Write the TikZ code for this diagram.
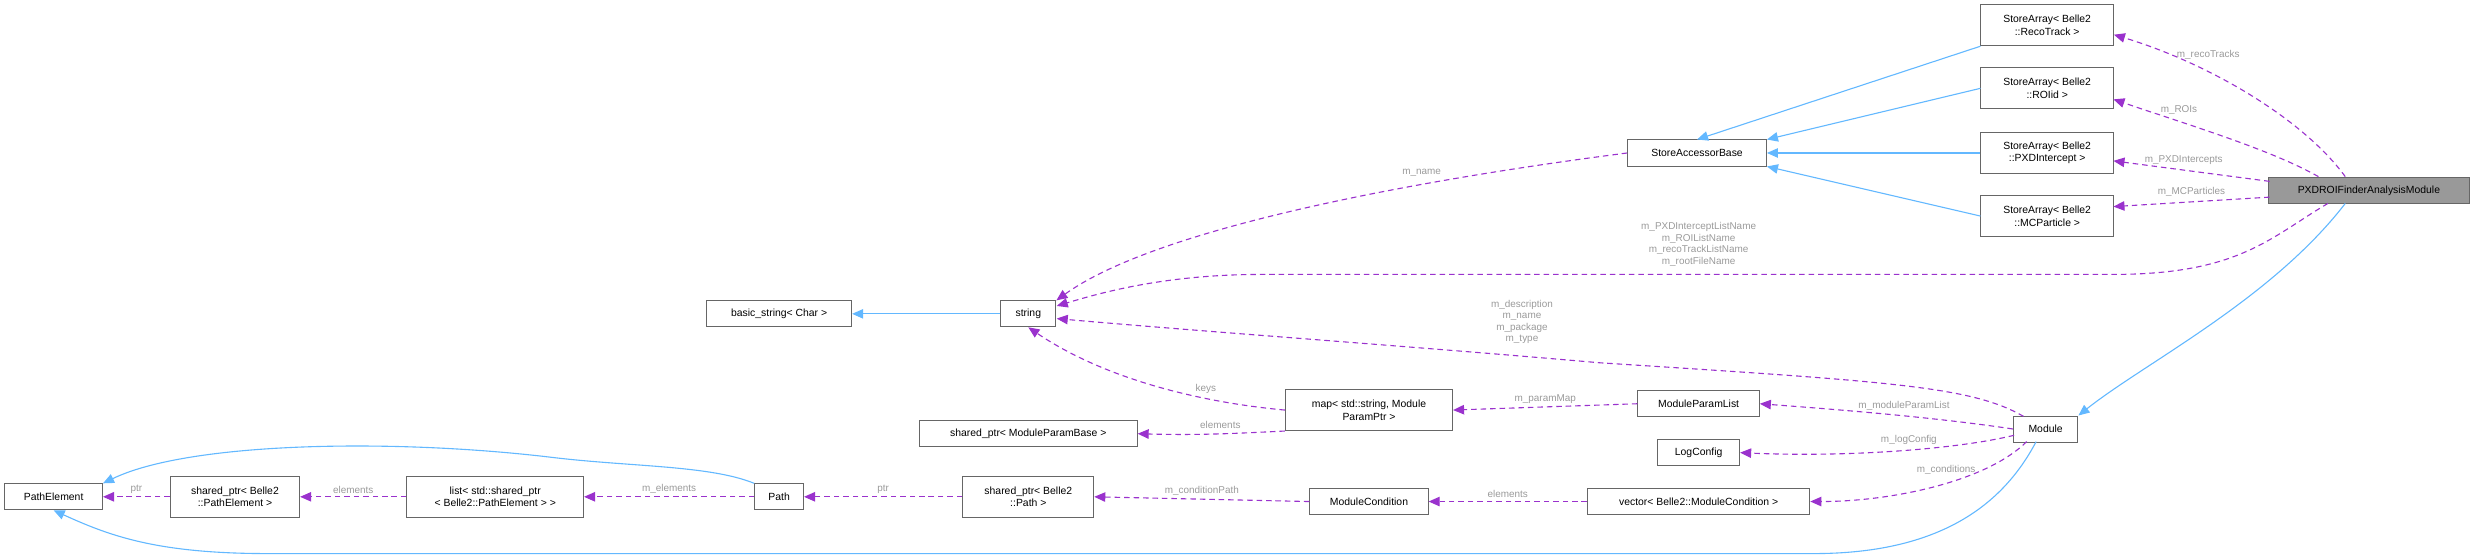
\documentclass[tikz,border=0pt]{standalone}
\usepackage{fontspec}
\setmainfont{Liberation Sans}
\usetikzlibrary{arrows.meta}
\definecolor{eblue}{HTML}{63B8FF}
\definecolor{epurple}{HTML}{9A32CD}
\definecolor{lgrey}{HTML}{9A9A9A}
\begin{document}
\begin{tikzpicture}[x=1pt,y=-1pt,
  box/.style={draw=black!60,fill=white,line width=0.6pt,font=\fontsize{6.6}{8}\selectfont,align=center,inner sep=2pt,minimum height=16.5pt},
  inh/.style={draw=eblue,line width=0.7pt,-{Triangle[length=7pt,width=6pt]}},
  use/.style={draw=epurple,line width=0.7pt,dash pattern=on 3.5pt off 2.5pt,-{Triangle[length=7pt,width=6pt]}},
  lab/.style={text=lgrey,font=\fontsize{6.3}{7.3}\selectfont,align=center,inner sep=0pt}]
\useasboundingbox (0,0) rectangle (1568,355);
\node[box,minimum width=84pt,minimum height=26pt] (ra) at (1298,16) {StoreArray< Belle2\\::RecoTrack >};
\node[box,minimum width=84pt,minimum height=26pt] (rb) at (1298,56) {StoreArray< Belle2\\::ROIid >};
\node[box,minimum width=84pt,minimum height=26pt] (rc) at (1298,97) {StoreArray< Belle2\\::PXDIntercept >};
\node[box,minimum width=84pt,minimum height=26pt] (rd) at (1298,137) {StoreArray< Belle2\\::MCParticle >};
\node[box,minimum width=88pt] (sab) at (1076,97) {StoreAccessorBase};
\node[box,minimum width=127pt,fill=black!40] (px) at (1502,121) {PXDROIFinderAnalysisModule};
\node[box,minimum width=92pt] (bs) at (494,199) {basic\_string< Char >};
\node[box,minimum width=35pt] (str) at (652,199) {string};
\node[box,minimum width=138pt] (spm) at (652,275) {shared\_ptr< ModuleParamBase >};
\node[box,minimum width=106pt,minimum height=26pt] (map) at (868,260) {map< std::string, Module\\ParamPtr >};
\node[box,minimum width=77pt] (mpl) at (1077,256) {ModuleParamList};
\node[box,minimum width=52pt] (lc) at (1077,287) {LogConfig};
\node[box,minimum width=41pt] (mod) at (1297,272) {Module};
\node[box,minimum width=141pt] (vec) at (1077,318) {vector< Belle2::ModuleCondition >};
\node[box,minimum width=75pt] (mc) at (868,318) {ModuleCondition};
\node[box,minimum width=83pt,minimum height=26pt] (spp) at (652,315) {shared\_ptr< Belle2\\::Path >};
\node[box,minimum width=31pt] (path) at (494,315) {Path};
\node[box,minimum width=112pt,minimum height=26pt] (lst) at (314,315) {list< std::shared\_ptr\\< Belle2::PathElement > >};
\node[box,minimum width=82pt,minimum height=26pt] (spe) at (149,315) {shared\_ptr< Belle2\\::PathElement >};
\node[box,minimum width=62pt] (pe) at (34,315) {PathElement};
\coordinate (pxa) at (1487,112);
\coordinate (pxb) at (1470,112);
\coordinate (pxc) at (1439,115);
\coordinate (pxd) at (1439,125);
\coordinate (pxe) at (1476,129);
\coordinate (pxf) at (1487,129);
\coordinate (ma) at (1283,264);
\coordinate (mb) at (1285,280);
\coordinate (mc2) at (1291,280);
% inheritance
\draw[inh] (ra.south west) -- (sab.north);
\draw[inh] (rb.west) -- (sab.north east);
\draw[inh] (rc.west) -- (sab.east);
\draw[inh] (rd.west) -- (sab.south east);
\draw[inh] (str.west) -- (bs.east);
\draw[inh] (pxf) .. controls (1440,190) and (1360,230) .. (mod.north east);
\draw[inh] (path.north west) .. controls (450,295) and (400,296) .. (350,290) .. controls (250,278) and (120,280) .. (pe.north east);
\draw[inh] (mc2) .. controls (1270,320) and (1230,351) .. (1150,351) -- (170,351) .. controls (100,351) and (70,340) .. (pe.south);
% usage
\draw[use] (pxa) .. controls (1460,75) and (1400,40) .. (ra.east |- 1340,22) node[lab,pos=0.8,right=4pt] {m\_recoTracks};
\draw[use] (pxb) .. controls (1440,95) and (1390,80) .. (1340,63) node[lab,pos=0.72,above=4pt] {m\_ROIs};
\draw[use] (pxc) -- (1340,102) node[lab,pos=0.55,above=3pt] {m\_PXDIntercepts};
\draw[use] (pxd) -- (1340,131) node[lab,pos=0.5,above=3pt] {m\_MCParticles};
\draw[use] (sab.west) .. controls (930,110) and (740,140) .. (str.north east) node[lab,pos=0.35,above=5pt] {m\_name};
\draw[use] (pxe) .. controls (1440,150) and (1420,174) .. (1340,174) -- (800,174) .. controls (740,174) and (700,185) .. (670,194)
  node[lab,pos=0.5,above=4pt,anchor=south] {};
\node[lab] at (1077,155) {m\_PXDInterceptListName\\m\_ROIListName\\m\_recoTrackListName\\m\_rootFileName};
\draw[use] (ma) .. controls (1250,245) and (1200,242) .. (1014,230) .. controls (900,220) and (760,210) .. (670,202);
\node[lab] at (965,204) {m\_description\\m\_name\\m\_package\\m\_type};
\draw[use] (map.west) .. controls (760,255) and (700,240) .. (str.south) node[lab,pos=0.3,above=3pt] {keys};
\draw[use] (map.south west) .. controls (780,275) and (760,276) .. (spm.east) node[lab,pos=0.45,above=3pt] {elements};
\draw[use] (mpl.west) -- (map.east) node[lab,midway,above=2pt] {m\_paramMap};
\draw[use] (mod.west) .. controls (1230,265) and (1170,260) .. (mpl.east) node[lab,pos=0.45,above=3pt] {m\_moduleParamList};
\draw[use] (1277,276) .. controls (1240,285) and (1170,290) .. (lc.east) node[lab,pos=0.45,above=3pt] {m\_logConfig};
\draw[use] (mb) .. controls (1260,305) and (1200,318) .. (vec.east) node[lab,pos=0.45,above=5pt] {m\_conditions};
\draw[use] (vec.west) -- (mc.east) node[lab,midway,above=2pt] {elements};
\draw[use] (mc.west) -- (spp.east) node[lab,midway,above=2pt] {m\_conditionPath};
\draw[use] (spp.west) -- (path.east) node[lab,midway,above=2pt] {ptr};
\draw[use] (path.west) -- (lst.east) node[lab,midway,above=2pt] {m\_elements};
\draw[use] (lst.west) -- (spe.east) node[lab,midway,above=2pt] {elements};
\draw[use] (spe.west) -- (pe.east) node[lab,midway,above=2pt] {ptr};
\end{tikzpicture}
\end{document}
